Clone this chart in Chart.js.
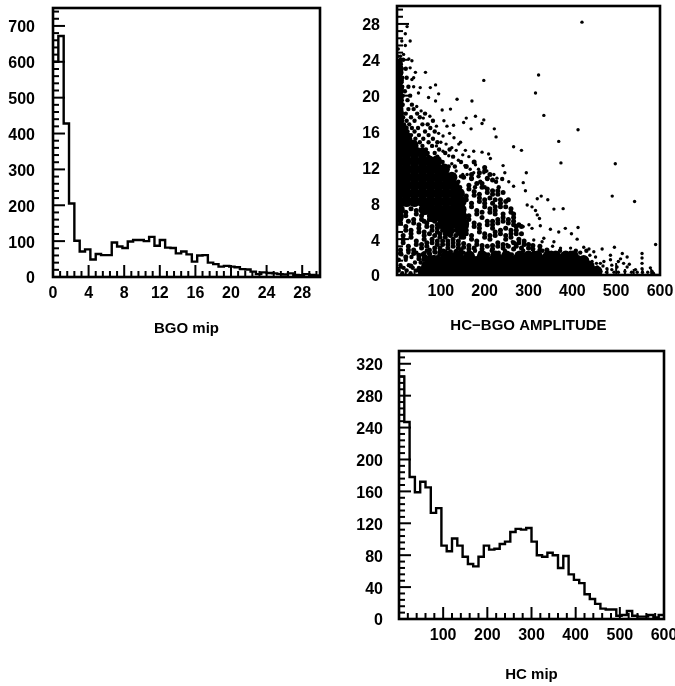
<!DOCTYPE html>
<html>
<head>
<meta charset="utf-8">
<script src="https://cdn.jsdelivr.net/npm/chart.js@4"></script>
<style>
html, body { margin: 0; background: #fff; overflow: hidden; width: 675px; height: 686px; }
canvas { position: absolute; filter: blur(0.35px); }
</style>
</head>
<body>
<canvas id="bgoChart" style="left:0;top:0"></canvas>
<canvas id="scatterChart" style="left:340px;top:0"></canvas>
<canvas id="hcChart" style="left:340px;top:340px"></canvas>
<script>
// histograms, counts per bin
const bgoBinWidth = 0.6;
const bgoCounts = [600,672,428,205,101,71,77,49,64,61,61,96,85,81,99,103,103,100,112,87,103,82,81,66,71,63,43,60,61,40,36,29,31,29,27,22,21,15,8,13,11,10,8,7,10,6,5,8,6,4];
const hcBinWidth = 12;
const hcCounts = [304,247,178,159,172,165,133,139,92,85,101,92,78,69,66,78,92,87,88,94,97,109,113,112,114,97,80,78,83,80,64,79,56,49,45,31,25,19,13,12,12,4,5,10,4,3,3,5,2,5];

// scatter, estimated by eye
// solid black areas, too dense to read single dots: [y, [x, ...]]
const scatterSolid = [
  [0.4,[60,76,92,108,124,140,156,172,188,204,220,236,252,268,284,300,316,332,348,364,380,396,412,428,444,456]],
  [1.0,[68,84,100,116,132,148,164,180,196,212,228,244,260,276,292,308,324,340,356,372,388,404,420,438]],
  [1.6,[76,92,108,124,140,156,172,188,204,220,236,252,268,284,300,316,332,348,364,380,396,412,426]],
  [2.1,[112,140,165,195,225,250,280,300,320,345,362,385,402]],
  [4.9,[118,146]],
  [5.7,[104,124,140,152]],
  [6.5,[3,82,100,118,134,148]],
  [7.3,[5,62,78,94,112,130,146]],
  [8.2,[5,22,40,58,76,94,112,130,146]],
  [9.1,[5,22,40,58,76,94,112,130,142]],
  [10,[5,22,40,58,76,94,112,130]],
  [10.9,[5,22,40,58,76,94,112,125]],
  [11.8,[5,22,40,58,76,94,108]],
  [12.7,[5,22,40,58,74,90]],
  [13.6,[5,22,40,58]],
  [14.5,[5,22,36]],
  [15.4,[5,20]],
  [16.3,[3,12]],[17.2,[3]],[18.1,[3]],[19,[3]],[19.9,[3]],[20.8,[3]],[21.7,[3]],[22.6,[2]],[23.5,[1]]
];
// clumped chains of dots: [x, [y, ...]]
const scatterChains = [
  [8,[2.4,2.8,5.8,6.2,7.4]],[14,[3.6,4,4.4]],[20,[2,5,5.4,6.6,7]],[26,[2.8,3.2,6]],[32,[1,4.2,4.6,5,7.4]],[38,[2.4,2.8,5.8,6.2]],
  [44,[3.4,3.8,6.8,7.2]],[50,[1.8,2.2,4.8,5.2,5.6]],[56,[3,3.4,6.2,6.6]],[62,[2,2.4,4,4.4,4.8,6]],[68,[3.2,3.6,5.4,5.8,7]],[74,[2.4,2.8,4.6,6.2,6.6]],
  [80,[3.6,4,5,5.4]],[86,[2.6,3,4.4,6]],[92,[3.4,3.8,4.8,5.2,5.6]],[98,[2.6,3,4.2,4.6]],[104,[3.4,3.8,5]],[110,[2.6,4.2,4.6]],[116,[3,3.4,3.8]],
  [122,[2.6,4.4]],[128,[3.2,3.6,4]],[134,[2.6,4.4,5]],[140,[3,3.4,3.8]],[146,[2.8,4.2]],
  [152,[3.1,3.5,4.2,6.9,7.3,10.9]],[158,[4.6,5,5.4,8.4,8.8,12.1]],[164,[2.9,3.3,6.2,6.6,9.6,10]],[170,[4,4.4,7.6,8,10.8,11.2]],
  [176,[3,5.4,5.8,8.9,9.3,12.6]],[182,[3.4,3.8,6.8,7.2,10.2]],[188,[4.8,5.2,5.6,8.2,8.6,9,11.4]],[194,[2.9,3.3,6.4,7,9.8,10.2]],
  [200,[4.2,4.6,7.6,8,8.4,11.6,12]],[206,[3.2,5.6,6,9.2,9.6,10.8]],[212,[4,4.4,7,7.4,8.6,11.2]],[218,[2.9,3.3,5.2,5.6,6,8,9,9.4,10.6]],
  [224,[4.4,4.8,6.8,7.2,7.6,8.4]],[230,[3.2,3.6,5.8,6.2,9,9.4]],[236,[4.6,5,7.6,8,8.4]],[242,[3,3.4,6,6.4,6.8,9.2]],[248,[4,4.4,5.2,7.6,8.2]],
  [254,[3.2,5.8,6.2,8.4]],[260,[4.2,4.6,5,7,7.4]],[266,[2.9,3.6,5.6,6,6.4,6.8]],[272,[3.2,4.6,5,5.4]],[278,[3.6,4,5.6]],[284,[3,4.6,5.4]],[290,[3.4,3.8]],[300,[3,3.4]],[310,[2.9,3.3]],[326,[2.8,3.2]],[342,[2.8]]
];
// speckled fringe: [y, [x, ...]]
const scatterSpeckle = [
  [0.2,[12,31]],[0.5,[4,22,44]],[0.8,[15,36,50]],[1.1,[8,27]],[1.4,[41,54]],[1.7,[4,20,60]],[2.0,[33,50,66,84]],
  [2.3,[10,58,75,97,128,170,208,262]],[2.5,[26,44,88,120,152,190,232,312,352,396,418]],[2.7,[68,106,136,178,216,246,288,332,372,408,432]],
  [9.8,[144,178,200,232]],[10.4,[140,190,226]],
  [10.7,[170,206,240]],[11,[146,186]],[12.1,[118,132]],[12.6,[104,146]],[13.2,[72,92,128]],[13.6,[70,86,110]],[14,[48,66,96,120]],
  [14.4,[44,58,80]],[14.8,[34,52,72,92]],[15.2,[30,42,60,82]],[15.6,[32,50,72]],[16,[24,40,64,86]],[16.4,[22,34,48,76]],[16.8,[16,28,58,70]],
  [17.2,[12,22,40,82]],[17.6,[14,32,52]],[18,[11,20,46,64]],[18.5,[10,26,38]],[19,[13,34]],[19.5,[11,24]],[20,[13,30]],[20.5,[10,18]],[21,[12,26]],[21.5,[10]],[22,[12,22]],[22.5,[9]],[23,[11,20]],[24,[8,14]]
];
// single dots: [y, [x, ...]]
const scatterDots = [
  [0.2,[585]],[0.3,[445,478,495,505,535,548,560,572]],[0.4,[465,520,582]],[0.5,[430]],[0.6,[544,490]],[0.7,[559,479]],[0.8,[450,578]],
  [0.9,[502,525,457]],[1,[470]],[1.1,[490]],[1.2,[530]],[1.3,[559,517,464,455]],[1.5,[445,472,505]],[1.7,[487]],[1.8,[510]],[1.9,[430,559]],
  [2,[525,453]],[2.2,[440,487]],[2.4,[559,514]],[2.6,[449]],[2.9,[468,438]],[3,[373,396]],[3.1,[496,426]],[3.2,[355]],[3.4,[590,251]],[3.5,[274]],
  [3.7,[331,289,263,358]],[3.9,[312]],[4,[411]],[4.1,[335]],[4.6,[398]],[4.8,[369]],[5.1,[350]],[5.2,[308,384]],[5.3,[413]],[5.4,[288]],[5.5,[276,327]],[5.6,[301]],
  [6.3,[325]],[6.7,[320]],[7.2,[316]],[7.35,[358]],[7.4,[379]],[7.6,[308]],[7.8,[297]],[8.2,[542]],[8.4,[344]],[8.5,[320]],[8.8,[329,491]],
  [9.4,[293]],[9.9,[266]],[10.3,[288]],[10.4,[255]],[10.8,[228]],[11.2,[221,160,150]],[11.4,[295,246,198,175]],[11.6,[205,135]],[11.8,[186,167]],
  [12.2,[242,155]],[12.3,[179]],[12.4,[498,125]],[12.5,[374]],[12.8,[140]],[13,[213]],[13.2,[164]],[13.3,[118]],[13.4,[150]],[13.5,[209]],[13.7,[194]],[13.8,[175,105]],
  [13.9,[156,284,135]],[14.2,[125]],[14.3,[266]],[14.4,[90]],[14.6,[141,112]],[14.8,[145,100]],[14.9,[369]],[15.3,[130]],[15.4,[226]],[15.5,[105]],
  [15.8,[95,120]],[16.2,[413]],[16.3,[222,169]],[16.6,[114,90]],[16.7,[129]],[16.9,[194]],[17,[152]],[17.2,[107]],[17.3,[198]],[17.5,[158,60]],
  [17.7,[179,75]],[17.8,[335]],[18.3,[55]],[18.4,[103]],[18.5,[122]],[18.8,[45]],[19.4,[171,88]],[19.6,[137]],[19.8,[72]],
  [20.2,[95]],[20.3,[316,49]],[20.9,[76,53]],[21,[38]],[21.2,[88]],[21.7,[198]],[21.8,[34]],[22,[38]],[22.3,[323]],[22.6,[42,65]],
  [23.1,[30]],[23.9,[34]],[24.1,[27]],[24.4,[3,8]],[24.6,[15]],[25.2,[3]],[25.6,[19]],[26.1,[30,11]],[26.9,[19]],[27.7,[23]],[28.2,[422]]
];

const rowsToPoints = rows => rows.flatMap(([y, xs]) => xs.map(x => ({ x, y })));
const colsToPoints = cols => cols.flatMap(([x, ys]) => ys.map(y => ({ x, y })));
const binsToPoints = (counts, width) =>
  counts.map((c, i) => ({ x: i * width, y: c })).concat({ x: counts.length * width, y: counts[counts.length - 1] });

const isMajor = (v, major) => Math.abs(v / major - Math.round(v / major)) < 1e-6;
const tickFont = { family: "'Liberation Sans', Arial, sans-serif", size: 16, weight: "bold" };

// scan style frame and inward tick marks
const frameTicks = {
  id: "frameTicks",
  afterDraw(chart) {
    const { ctx, chartArea: a, scales } = chart;
    const marks = chart.options.plugins.frameTicks;
    ctx.save();
    ctx.strokeStyle = "#000";
    ctx.lineWidth = 2;
    scales.x.ticks.forEach(t => {
      const px = scales.x.getPixelForValue(t.value);
      ctx.beginPath();
      ctx.moveTo(px, a.bottom);
      ctx.lineTo(px, a.bottom - (isMajor(t.value, marks.xMajor) ? 12 : 6));
      ctx.stroke();
    });
    scales.y.ticks.forEach(t => {
      const py = scales.y.getPixelForValue(t.value);
      ctx.beginPath();
      ctx.moveTo(a.left, py);
      ctx.lineTo(a.left + (isMajor(t.value, marks.yMajor) ? 12 : 6), py);
      ctx.stroke();
    });
    ctx.lineWidth = 2.6;
    ctx.strokeRect(a.left, a.top, a.right - a.left, a.bottom - a.top);
    ctx.restore();
  }
};

function makeChart(id, cfg) {
  const canvas = document.getElementById(id);
  canvas.width = cfg.size[0];
  canvas.height = cfg.size[1];
  return new Chart(canvas, {
    type: "scatter",
    data: { datasets: cfg.datasets },
    plugins: [frameTicks],
    options: {
      responsive: false,
      animation: false,
      layout: { padding: { top: cfg.top, right: cfg.right, left: 0, bottom: 0 } },
      plugins: {
        legend: { display: false },
        tooltip: { enabled: false },
        frameTicks: { xMajor: cfg.xMajor, yMajor: cfg.yMajor }
      },
      scales: {
        x: {
          type: "linear",
          min: 0,
          max: cfg.xMax,
          afterFit: s => { s.height = cfg.xHeight; s.paddingLeft = 0; s.paddingRight = 0; },
          grid: { display: false, drawTicks: false },
          border: { display: false },
          title: { display: true, text: cfg.xTitle, color: "#000", padding: { top: 0, bottom: cfg.titlePad },
            font: { family: tickFont.family, size: 15, weight: "bold" } },
          ticks: {
            stepSize: cfg.xMinor, autoSkip: false, includeBounds: false, maxRotation: 0, padding: 7, color: "#000", font: tickFont,
            callback: v => (isMajor(v, cfg.xMajor) && (v !== 0 || cfg.xZero)) ? String(Math.round(v)) : ""
          }
        },
        y: {
          min: 0,
          max: cfg.yMax,
          afterFit: s => { s.width = cfg.yWidth; s.paddingTop = 0; s.paddingBottom = 0; },
          grid: { display: false, drawTicks: false },
          border: { display: false },
          ticks: {
            stepSize: cfg.yMinor, autoSkip: false, includeBounds: false, padding: cfg.yPad, labelOffset: 2, color: "#000", font: tickFont,
            callback: v => isMajor(v, cfg.yMajor) ? String(Math.round(v)) : ""
          }
        }
      }
    }
  });
}

const histLine = points => ({
  data: points, showLine: true, stepped: "before", borderColor: "#000", borderWidth: 2.4, pointRadius: 0, fill: false
});
const dots = (points, radius) => ({
  data: points, showLine: false, pointRadius: radius, pointBorderWidth: 0, pointBackgroundColor: "#000"
});

makeChart("bgoChart", {
  size: [335, 340], top: 8, right: 15, xHeight: 63, yWidth: 53, yPad: 18, titlePad: 2,
  xMax: 30, xMinor: 0.8, xMajor: 4, xZero: true, yMax: 750, yMinor: 20, yMajor: 100, xTitle: "BGO mip",
  datasets: [histLine(binsToPoints(bgoCounts, bgoBinWidth))]
});
makeChart("scatterChart", {
  size: [335, 340], top: 6, right: 15, xHeight: 65, yWidth: 57, yPad: 17, titlePad: 5,
  xMax: 600, xMinor: 20, xMajor: 100, xZero: false, yMax: 30, yMinor: 0.8, yMajor: 4, xTitle: "HC\u2212BGO AMPLITUDE",
  datasets: [
    dots(rowsToPoints(scatterSolid), 5.6),
    dots(colsToPoints(scatterChains), 2.5),
    dots(rowsToPoints(scatterSpeckle), 2.2),
    dots(rowsToPoints(scatterDots), 1.7)
  ]
});
makeChart("hcChart", {
  size: [339, 346], top: 11, right: 15, xHeight: 67, yWidth: 59, yPad: 16, titlePad: 2,
  xMax: 600, xMinor: 20, xMajor: 100, xZero: false, yMax: 336, yMinor: 8, yMajor: 40, xTitle: "HC mip",
  datasets: [histLine(binsToPoints(hcCounts, hcBinWidth))]
});
</script>
</body>
</html>
